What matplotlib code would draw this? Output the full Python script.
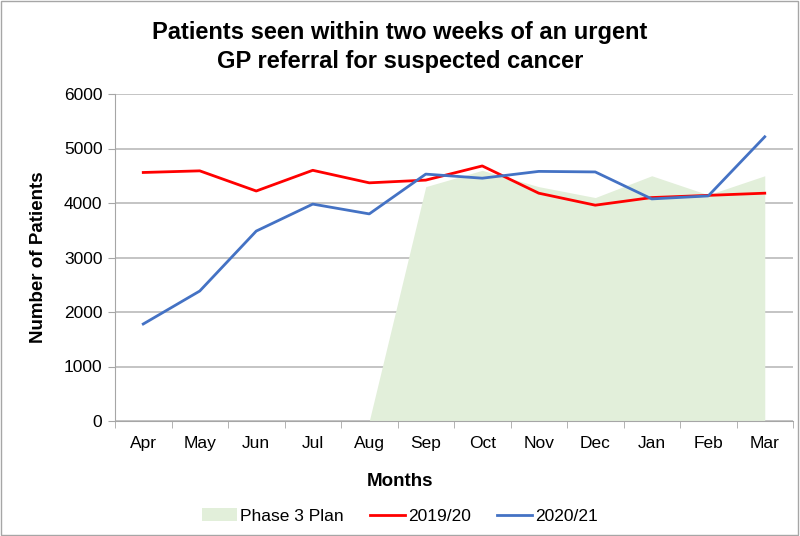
import matplotlib.pyplot as plt
import numpy as np
from matplotlib.patches import Rectangle

plt.rcParams["font.family"] = ["Liberation Sans", "DejaVu Sans"]

months = ["Apr", "May", "Jun", "Jul", "Aug", "Sep", "Oct", "Nov", "Dec", "Jan", "Feb", "Mar"]
plan = [None, None, None, None, 0, 4300, 4600, 4300, 4100, 4500, 4150, 4500]
y1920 = [4560, 4590, 4220, 4600, 4370, 4420, 4680, 4180, 3960, 4100, 4140, 4180]
y2021 = [1780, 2385, 3485, 3980, 3800, 4530, 4455, 4580, 4570, 4075, 4130, 5215]

x = np.arange(len(months))
plan_x = [i for i, v in enumerate(plan) if v is not None]
plan_y = [v for v in plan if v is not None]

fig = plt.figure(figsize=(8, 5.36), dpi=100)
ax = fig.add_axes([115 / 800, 1 - 421 / 536, 678 / 800, 327 / 536])

ax.fill_between(plan_x, 0, plan_y, color="#e2efda", linewidth=0, label="Phase 3 Plan", zorder=2)
ax.plot(x, y1920, color="#ff0000", lw=2, label="2019/20", zorder=3)
ax.plot(x, y2021, color="#4472c4", lw=2, label="2020/21", zorder=3)

ax.set_xlim(-0.5, len(months) - 0.5)
ax.set_ylim(0, 6000)
ax.set_yticks(range(0, 6001, 1000))
ax.yaxis.grid(True, color="#bfbfbf", lw=1.3, zorder=0)
ax.set_axisbelow(True)
ax.set_xticks(x)
ax.set_xticklabels(months)
ax.set_xticks(np.arange(-0.5, len(months)), minor=True)
ax.tick_params(axis="x", which="major", length=0, labelsize=12.5, pad=11)
ax.tick_params(axis="x", which="minor", length=5, color="#a6a6a6")
ax.tick_params(axis="y", length=5, color="#a6a6a6", labelsize=12.5, pad=4)
for s in ["top", "right"]:
    ax.spines[s].set_visible(False)
for s in ["left", "bottom"]:
    ax.spines[s].set_color("#a6a6a6")

ax.set_ylabel("Number of Patients", fontsize=13.5, fontweight="bold", labelpad=12)
fig.text(0.5, 1 - 481 / 536, "Months", ha="center", va="center", fontsize=13.5, fontweight="bold")

fig.text(0.5, 1 - 47 / 536, "Patients seen within two weeks of an urgent\nGP referral for suspected cancer",
         ha="center", va="center", fontsize=17, fontweight="bold", linespacing=1.3)

fig.legend(loc="center", bbox_to_anchor=(0.5, 1 - 516 / 536), ncol=3, frameon=False,
           fontsize=12.5, handlelength=2.0, columnspacing=1.5, handletextpad=0.2)

fig.patches.append(Rectangle((0.001, 0.001), 0.997, 0.997, transform=fig.transFigure,
                             fill=False, edgecolor="#a6a6a6", lw=1))

fig.savefig("out.png", dpi=100)
